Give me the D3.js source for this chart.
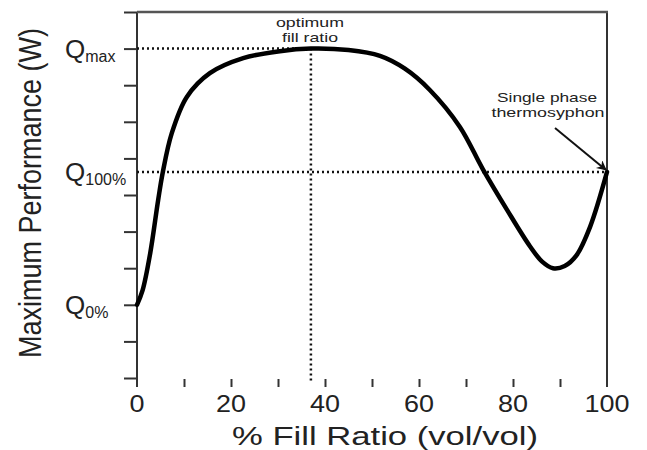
<!DOCTYPE html>
<html>
<head>
<meta charset="utf-8">
<script src="https://cdn.jsdelivr.net/npm/d3@7"></script>
<style>
  body { margin: 0; background: #fff; }
  text { font-family: "Liberation Sans", Arial, sans-serif; fill: #222; }
</style>
</head>
<body>
<div id="chart"></div>
<script>
// curve (x = % fill ratio, y = performance in axis units)
const fillRatio = [0, 1.2, 2.8, 4.5, 5.5, 7.4, 10.6, 15.5, 22.6, 30.4, 37, 45, 51.7, 57, 62.3, 68.7, 73.6, 78.7, 83.6, 86.2, 88.5, 91, 93.5, 96.4, 100];
const performance = [2.0, 2.4, 3.4, 4.86, 5.63, 6.69, 7.68, 8.33, 8.74, 8.93, 9.0, 8.96, 8.8, 8.45, 7.87, 6.86, 5.7, 4.6, 3.6, 3.18, 3.0, 3.06, 3.35, 4.13, 5.63];

const xTickLabels = [0, 20, 40, 60, 80, 100];
const qNames = ["max", "100%", "0%"];
const qValues = [9, 5.63, 2];
const optimumFill = 37;

const W = 647, H = 450;
const svg = d3.select("#chart").append("svg").attr("width", W).attr("height", H);

const x = d3.scaleLinear().domain([0, 100]).range([137, 607]);
const y = d3.scaleLinear().domain([0, 10]).range([378, 12]);

// left axis (ticks only, line drawn separately)
const yAxisG = svg.append("g")
  .attr("transform", `translate(${x(0)},0)`)
  .call(d3.axisLeft(y).tickValues(d3.range(0, 11)).tickSize(13).tickSizeOuter(0).tickFormat(""));
yAxisG.select(".domain").remove();
yAxisG.selectAll("line").attr("stroke", "#333").attr("stroke-width", 2);

// bottom ticks, no line
const xAxisG = svg.append("g")
  .attr("transform", "translate(0,379)")
  .call(d3.axisBottom(x).tickValues(d3.range(10, 100, 10)).tickSize(8).tickFormat(""));
xAxisG.select(".domain").remove();
xAxisG.selectAll("line").attr("stroke", "#333").attr("stroke-width", 2);

// frame lines
svg.append("line").attr("x1", x(0)).attr("x2", x(0)).attr("y1", y(10)).attr("y2", 387)
  .attr("stroke", "#333").attr("stroke-width", 2);
svg.append("line").attr("x1", x(100)).attr("x2", x(100)).attr("y1", y(10)).attr("y2", 387)
  .attr("stroke", "#333").attr("stroke-width", 2);
svg.append("line").attr("x1", x(0)).attr("x2", x(100) + 1).attr("y1", y(10)).attr("y2", y(10))
  .attr("stroke", "#555").attr("stroke-width", 2.5);

// x tick labels
svg.append("g").selectAll("text").data(xTickLabels).join("text")
  .attr("x", d => x(d)).attr("y", 412)
  .attr("text-anchor", "middle")
  .attr("font-size", 24)
  .attr("textLength", d => String(d).length * 15)
  .attr("lengthAdjust", "spacingAndGlyphs")
  .text(d => d);

// axis titles
svg.append("text")
  .attr("x", 385).attr("y", 445)
  .attr("text-anchor", "middle")
  .attr("font-size", 25)
  .attr("textLength", 306)
  .attr("lengthAdjust", "spacingAndGlyphs")
  .text("% Fill Ratio (vol/vol)");

svg.append("text")
  .attr("transform", "translate(41,193) rotate(-90) scale(1,1.18)")
  .attr("text-anchor", "middle")
  .attr("font-size", 27)
  .text("Maximum Performance (W)");

// Q labels on the y axis
const qG = svg.append("g").selectAll("text").data(qNames).join("text")
  .attr("x", 65)
  .attr("y", (d, i) => y(qValues[i]) + 9)
  .attr("font-size", 26);
qG.append("tspan").text("Q");
qG.append("tspan").attr("font-size", 16).attr("dy", 4).text(d => d);

// dotted guide lines
const dots = { stroke: "#111", "stroke-width": 2.5, "stroke-dasharray": "2,3" };
function dotted(x1, y1, x2, y2) {
  const l = svg.append("line").attr("x1", x1).attr("y1", y1).attr("x2", x2).attr("y2", y2);
  Object.entries(dots).forEach(([k, v]) => l.attr(k, v));
}
dotted(x(0), y(qValues[0]), x(optimumFill), y(qValues[0]));
dotted(x(optimumFill), y(qValues[0]), x(optimumFill), 381);
dotted(x(0), y(qValues[1]), x(100), y(qValues[1]));

// performance curve
const pts = fillRatio.map((f, i) => [f, performance[i]]);
svg.append("path")
  .datum(pts)
  .attr("fill", "none")
  .attr("stroke", "#000")
  .attr("stroke-width", 4.5)
  .attr("stroke-linecap", "round")
  .attr("d", d3.line().x(d => x(d[0])).y(d => y(d[1])).curve(d3.curveCatmullRom.alpha(0.5)));

// annotations
svg.append("text").attr("x", 310).attr("y", 27).attr("text-anchor", "middle")
  .attr("font-size", 13).attr("textLength", 68).attr("lengthAdjust", "spacingAndGlyphs").text("optimum");
svg.append("text").attr("x", 310).attr("y", 42).attr("text-anchor", "middle")
  .attr("font-size", 13).attr("textLength", 56).attr("lengthAdjust", "spacingAndGlyphs").text("fill ratio");
svg.append("text").attr("x", 547).attr("y", 102).attr("text-anchor", "middle")
  .attr("font-size", 13).attr("textLength", 100).attr("lengthAdjust", "spacingAndGlyphs").text("Single phase");
svg.append("text").attr("x", 548).attr("y", 117).attr("text-anchor", "middle")
  .attr("font-size", 13).attr("textLength", 113).attr("lengthAdjust", "spacingAndGlyphs").text("thermosyphon");

svg.append("defs").append("marker")
  .attr("id", "arrow").attr("viewBox", "0 0 10 10")
  .attr("refX", 9).attr("refY", 5)
  .attr("markerWidth", 7).attr("markerHeight", 5)
  .attr("markerUnits", "strokeWidth")
  .attr("orient", "auto")
  .append("path").attr("d", "M0,0 L10,5 L0,10 L3,5 Z").attr("fill", "#111");
svg.append("line")
  .attr("x1", 555).attr("y1", 128).attr("x2", x(100) - 1).attr("y2", y(qValues[1]) - 2)
  .attr("stroke", "#111").attr("stroke-width", 2)
  .attr("marker-end", "url(#arrow)");
</script>
</body>
</html>
